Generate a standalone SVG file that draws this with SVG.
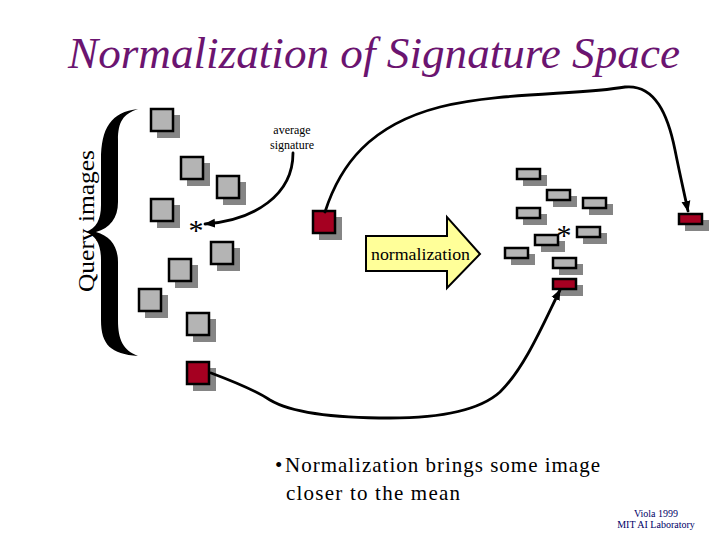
<svg xmlns="http://www.w3.org/2000/svg" width="720" height="540" viewBox="0 0 720 540">
<style>
.sh{fill:#858585}
.g{fill:#b4b4b4;stroke:#000;stroke-width:2.5}
.r{fill:#a50021;stroke:#000;stroke-width:2.5}
.c{fill:none;stroke:#000;stroke-width:2.8;stroke-linecap:round}
text{font-family:'Times New Roman','Liberation Serif',Tinos,'DejaVu Serif','Noto Serif',serif}
.t{fill:#000}
</style>
<defs>
<marker id="ah" markerUnits="userSpaceOnUse" markerWidth="12" markerHeight="10" refX="10" refY="5" orient="auto">
<path d="M0,0.5 L11,5 L0,9.5 Z" fill="#000"/>
</marker>
</defs>
<rect width="720" height="540" fill="#fff"/>
<text id="title" x="374" y="68" text-anchor="middle" font-size="45" font-style="italic" fill="#6b1470" textLength="612" lengthAdjust="spacingAndGlyphs">Normalization of Signature Space</text>
<g id="brace">
<path d="M138,109 C111,112 101,128 101,160 L101,205 C101,220 96,228 86,232 C96,236 101,244 101,260 L101,320 C101,345 111,354 138,356 C123,350 118,340 118,320 L118,262 C118,246 110,236 96,232 C110,228 118,218 118,202 L118,140 C118,122 123,114 138,109 Z" fill="#000"/>
<text class="t" transform="translate(94,221) rotate(-90)" text-anchor="middle" font-size="24" textLength="142" lengthAdjust="spacingAndGlyphs">Query images</text>
</g>
<g id="query-squares">
<g id="q1"><rect class="sh" x="157" y="115" width="23" height="23"/><rect class="g" x="151" y="109" width="22" height="22"/></g>
<g id="q2"><rect class="sh" x="187" y="163" width="23" height="23"/><rect class="g" x="181" y="157" width="22" height="22"/></g>
<g id="q3"><rect class="sh" x="223" y="182" width="23" height="23"/><rect class="g" x="217" y="176" width="22" height="22"/></g>
<g id="q4"><rect class="sh" x="157" y="205" width="23" height="23"/><rect class="g" x="151" y="199" width="22" height="22"/></g>
<g id="q5"><rect class="sh" x="217" y="248" width="23" height="23"/><rect class="g" x="211" y="242" width="22" height="22"/></g>
<g id="q6"><rect class="sh" x="175" y="265" width="23" height="23"/><rect class="g" x="169" y="259" width="22" height="22"/></g>
<g id="q7"><rect class="sh" x="145" y="295" width="23" height="23"/><rect class="g" x="139" y="289" width="22" height="22"/></g>
<g id="q8"><rect class="sh" x="193" y="319" width="23" height="23"/><rect class="g" x="187" y="313" width="22" height="22"/></g>
<g id="q-red"><rect class="sh" x="193" y="368" width="23" height="23"/><rect class="r" x="187" y="362" width="22" height="22"/></g>
</g>
<g id="mean-left"><text class="t" x="196" y="240" text-anchor="middle" font-size="30">*</text></g>
<g id="avg-label">
<text class="t" x="292" y="134" text-anchor="middle" font-size="12">average</text>
<text class="t" x="292" y="149" text-anchor="middle" font-size="12">signature</text>
</g>
<g id="avg-square"><rect class="sh" x="319" y="217" width="23" height="23"/><rect class="r" x="313" y="211" width="22" height="22"/></g>
<g id="normalization-arrow">
<polygon points="366,236 447,236 447,217 480,254 447,288 447,271 366,271" fill="#ffff99" stroke="#000" stroke-width="2"/>
<text class="t" x="371" y="260" font-size="17" textLength="99" lengthAdjust="spacingAndGlyphs">normalization</text>
</g>
<g id="norm-rects">
<g id="n1"><rect class="sh" x="523" y="175" width="24" height="11"/><rect class="g" x="517" y="169" width="23" height="10"/></g>
<g id="n2"><rect class="sh" x="553" y="196" width="24" height="11"/><rect class="g" x="547" y="190" width="23" height="10"/></g>
<g id="n3"><rect class="sh" x="589" y="204" width="24" height="11"/><rect class="g" x="583" y="198" width="23" height="10"/></g>
<g id="n4"><rect class="sh" x="523" y="214" width="24" height="11"/><rect class="g" x="517" y="208" width="23" height="10"/></g>
<g id="n5"><rect class="sh" x="583" y="233" width="24" height="11"/><rect class="g" x="577" y="227" width="23" height="10"/></g>
<g id="n6"><rect class="sh" x="541" y="241" width="24" height="11"/><rect class="g" x="535" y="235" width="23" height="10"/></g>
<g id="n7"><rect class="sh" x="511" y="254" width="24" height="11"/><rect class="g" x="505" y="248" width="23" height="10"/></g>
<g id="n8"><rect class="sh" x="559" y="264" width="24" height="11"/><rect class="g" x="553" y="258" width="23" height="10"/></g>
<g id="n-red"><rect class="sh" x="559" y="285" width="24" height="11"/><rect class="r" x="553" y="279" width="23" height="10"/></g>
</g>
<g id="mean-right"><text class="t" x="564" y="245" text-anchor="middle" font-size="30">*</text></g>
<g id="avg-normalized"><rect class="sh" x="685" y="220" width="24" height="11"/><rect class="r" x="679" y="214" width="23" height="10"/></g>
<g id="connectors">
<path class="c" d="M293,153 C293,195 255,220 205,224" marker-end="url(#ah)"/>
<path class="c" d="M325,212 C340,165 370,125 440,107 C500,92 580,95 625,87 C655,84 668,115 675,150 C680,175 684,192 688,211" marker-end="url(#ah)"/>
<path class="c" d="M211,373 C235,382 255,390 270,400 C290,412 330,418 390,418 C440,418 480,410 500,392 C525,368 545,320 560,290" marker-end="url(#ah)"/>
</g>
<g id="caption">
<text class="t" x="275" y="472" font-size="21">•</text>
<text class="t" x="285" y="472" font-size="21" textLength="315" lengthAdjust="spacing">Normalization brings some image</text>
<text class="t" x="286" y="500" font-size="21" textLength="174" lengthAdjust="spacing">closer to the mean</text>
</g>
<g id="credit">
<text x="656" y="517" text-anchor="middle" font-size="10" fill="#000066">Viola 1999</text>
<text x="656" y="528" text-anchor="middle" font-size="10" fill="#000066">MIT AI Laboratory</text>
</g>
</svg>
